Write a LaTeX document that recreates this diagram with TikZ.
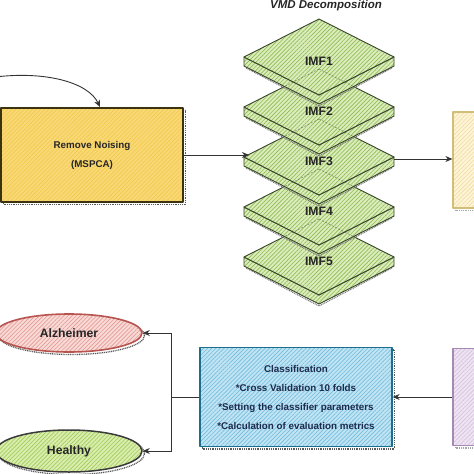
\documentclass[tikz,border=0pt]{standalone}
\usepackage{fontspec}
\setmainfont{Liberation Sans}
\usetikzlibrary{arrows.meta,patterns.meta,shapes.geometric,shadows,calc}
\definecolor{conn}{HTML}{333333}
\definecolor{ylwFill}{HTML}{F9D976}
\definecolor{ylwHatch}{HTML}{F2C94E}
\definecolor{ylwBorder}{HTML}{3B3210}
\definecolor{featFill}{HTML}{FFF5D6}
\definecolor{featHatch}{HTML}{EEDCA4}
\definecolor{featBorder}{HTML}{D2BE78}
\definecolor{imfFill}{HTML}{DCEDBD}
\definecolor{imfHatch}{HTML}{8FBB52}
\definecolor{imfBorder}{HTML}{37452A}
\definecolor{clsFill}{HTML}{C0E4F3}
\definecolor{clsHatch}{HTML}{74BDDD}
\definecolor{clsBorder}{HTML}{1B6E8E}
\definecolor{clsText}{HTML}{1C2B4E}
\definecolor{purFill}{HTML}{EEE4F2}
\definecolor{purHatch}{HTML}{D5C0E0}
\definecolor{purBorder}{HTML}{A48AB4}
\definecolor{alzFill}{HTML}{F9DAD7}
\definecolor{alzHatch}{HTML}{E29A93}
\definecolor{alzBorder}{HTML}{B85450}
\definecolor{hlthFill}{HTML}{D9EDAE}
\definecolor{hlthHatch}{HTML}{A1CB58}
\definecolor{hlthBorder}{HTML}{3A3A3A}
\tikzset{
  hatched/.style n args={3}{preaction={fill=#1},
    pattern={Lines[angle=45,distance=2.9pt,line width=0.65pt]},
    pattern color=#2, draw=#3},
  sk/.style={line width=1.3pt, line join=round,
    drop shadow={shadow xshift=2.5pt, shadow yshift=-2.5pt, fill=none,
      draw=black!65, dash pattern=on 1pt off 0.8pt, line width=1.3pt, opacity=1}},
  skl/.style={line width=1.2pt, line join=round,
    drop shadow={shadow xshift=2.5pt, shadow yshift=-2.5pt, fill=none,
      draw=black!35, dash pattern=on 1pt off 0.8pt, line width=1.1pt, opacity=1}},
  bodytxt/.style={font=\fontsize{9.8}{19}\selectfont\bfseries, align=center},
  bigtxt/.style={font=\fontsize{12.2}{14}\selectfont\bfseries},
  conn/.style={draw=conn, line width=0.9pt},
  arr/.style={conn, -{Stealth[length=7pt,width=6pt]}},
  slab/.style={hatched={imfFill}{imfHatch}{imfBorder}, line width=0.9pt, line join=round},
  hidden/.style={draw=imfBorder, dash pattern=on 2pt off 1.6pt, line width=0.6pt, opacity=0.55}
}
\newcommand\imfslab[2]{%
  \path[draw=black!55, dash pattern=on 1pt off 0.8pt, line width=1pt] (246,#1+11) -- (319,#1+49) -- (392,#1+11);
  \path[slab] (244,#1) -- (319,#1+38) -- (394,#1) -- (394,#1+9) -- (319,#1+47) -- (244,#1+9) -- cycle;
  \path[slab] (319,#1-38) -- (394,#1) -- (319,#1+38) -- (244,#1) -- cycle;
  \node[bigtxt, text=black!85] (imf#2) at (319,#1+4) {IMF#2};
}
\begin{document}
\begin{tikzpicture}[x=1pt,y=-1pt]
\useasboundingbox (0,0) rectangle (474,474);
% title
\node[font=\fontsize{11.5}{13}\selectfont\bfseries\itshape, anchor=base, text=black!85] (title) at (326,8.5) {VMD Decomposition};
% IMF stack (bottom to top)
\imfslab{257}{5}
\imfslab{207}{4}
\imfslab{157}{3}
\imfslab{107}{2}
\imfslab{57}{1}
\foreach \c in {57,107,157,207}{
  \path[hidden] (319,\c+12) -- (284.5,\c+29.5);
  \path[hidden] (319,\c+12) -- (353.5,\c+29.5);
}
\coordinate (imf3in) at (249,155);
\coordinate (imf3out) at (394,159);
% boxes
\node[sk, hatched={ylwFill}{ylwHatch}{ylwBorder}, minimum width=182, minimum height=94, bodytxt, text=black!85] (noise) at (92,155) {Remove Noising\\(MSPCA)};
\node[skl, hatched={featFill}{featHatch}{featBorder}, minimum width=80, minimum height=96] (feat) at (493,160) {};
\node[skl, hatched={purFill}{purHatch}{purBorder}, minimum width=80, minimum height=97] (pur) at (493,397) {};
\node[sk, hatched={clsFill}{clsHatch}{clsBorder}, minimum width=192, minimum height=99, bodytxt, text=clsText] (cls) at (296,397) {Classification\\*Cross Validation 10 folds\\*Setting the classifier parameters\\*Calculation of evaluation metrics};
\node[sk, ellipse, hatched={alzFill}{alzHatch}{alzBorder}, line width=1.6pt, minimum width=146, minimum height=38, bigtxt, text=black!85] (alz) at (69,333) {Alzheimer};
\node[sk, ellipse, hatched={hlthFill}{hlthHatch}{hlthBorder}, line width=1.5pt, minimum width=146, minimum height=42, bigtxt, text=black!85] (hlth) at (69,451) {Healthy};
% connectors
\coordinate (cin) at (-5,77);
\coordinate (noisetop) at (100,107);
\draw[arr] (cin) .. controls (45,71) and (88,82) .. (noisetop);
\draw[arr] (noise.east) -- (imf3in);
\draw[arr] (imf3out) -- (imf3out -| feat.west);
\draw[arr] (pur.west) -- (cls.east);
\coordinate (split) at (171,397);
\draw[conn] (cls.west) -- (split);
\draw[arr] (split) |- (alz.east);
\draw[arr] (split) |- (hlth.east);
\end{tikzpicture}
\end{document}
